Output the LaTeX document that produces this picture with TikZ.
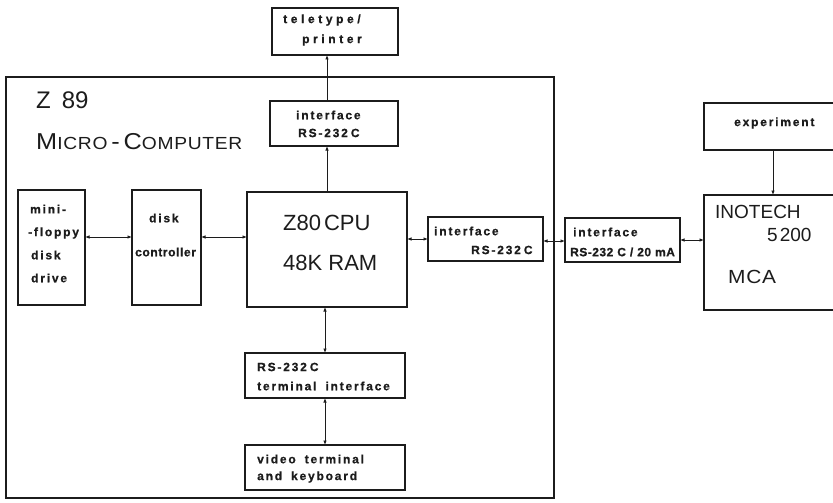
\documentclass[tikz,border=0pt]{standalone}
\usepackage{fontspec}
\setmainfont{Liberation Sans}
\newfontfamily\lbl[LetterSpace=15,FakeBold=0.8]{Liberation Sans Bold}
\newfontfamily\lblwide[LetterSpace=30,FakeBold=0.8]{Liberation Sans Bold}
\newfontfamily\lbltight[LetterSpace=5,FakeBold=0.8]{Liberation Sans Bold}
\newfontfamily\lblmid[LetterSpace=4,FakeBold=0.8]{Liberation Sans Bold}
\newfontfamily\wide[FakeStretch=1.1,LetterSpace=4]{Liberation Sans}
\newcommand\wgap{\hspace{9pt}}
\usetikzlibrary{arrows.meta}
\definecolor{ink}{HTML}{1C1C1C}
\tikzset{
  box/.style={draw=ink, line width=1.2pt, inner sep=0pt, outer sep=0pt, anchor=north west},
  heavy/.style={draw=ink, line width=2.3pt, line cap=rect},
  lab/.style={font=\lbl\fontsize{12}{14}\selectfont, text=ink, inner sep=0pt, anchor=west},
  big/.style={font=\fontsize{22}{26}\selectfont, text=ink, inner sep=0pt, anchor=west},
  mid/.style={font=\fontsize{19}{22}\selectfont, text=ink, inner sep=0pt, anchor=west},
  con/.style={draw=ink, line width=1pt, {Latex[length=4.5pt,width=3.5pt]}-{Latex[length=4.5pt,width=3.5pt]}},
  one/.style={draw=ink, line width=1pt, -{Latex[length=4.5pt,width=3.5pt]}}
}
\begin{document}
\begin{tikzpicture}[x=1pt,y=-1pt]
\useasboundingbox (0,0) rectangle (833,503);
\clip (0,0) rectangle (833,503);
\fill[white] (0,0) rectangle (833,503);
% boxes
\node[box, line width=1.1pt, minimum width=548pt, minimum height=421pt] (main) at (6,77) {};
\node[box, minimum width=126pt, minimum height=47pt] (tty) at (272,8) {};
\node[box, minimum width=128pt, minimum height=45pt] (ifa) at (270,101) {};
\node[box, minimum width=67pt, minimum height=115pt] (flp) at (18,190) {};
\node[box, minimum width=69pt, minimum height=115pt] (ctl) at (132,190) {};
\node[box, minimum width=160pt, minimum height=115pt] (cpu) at (247,192) {};
\node[box, minimum width=115pt, minimum height=44pt] (ifr) at (428,217) {};
\node[box, minimum width=115pt, minimum height=44pt] (ifm) at (565,218) {};
\node[box, minimum width=156pt, minimum height=115pt] (ino) at (704,195) {};
\node[box, minimum width=156pt, minimum height=47pt] (exp) at (704,103) {};
\node[box, minimum width=160pt, minimum height=45pt] (trm) at (245,353) {};
\node[box, minimum width=160pt, minimum height=45pt] (vid) at (245,445) {};
% heavier left and bottom edges
\foreach \n in {tty,ifa,flp,cpu,ifr,ifm,ino,exp,trm,vid}
  \draw[heavy] (\n.north west) -- (\n.south west) -- (\n.south east);
\draw[heavy] (ctl.south west) -- (ctl.south east);
\draw[draw=ink, line width=2pt] (main.south west) -- (main.south east);
% connectors
\draw[one] (cpu.north) -- (cpu.north |- ifa.south);
\draw[one] (cpu.north |- ifa.north) -- (cpu.north |- tty.south);
\draw[con] (flp.east |- 0,237) -- (ctl.west |- 0,237);
\draw[con] (ctl.east |- 0,237) -- (cpu.west |- 0,237);
\draw[con] (cpu.east |- ifr.west) -- (ifr.west);
\draw[con] (ifr.east |- 0,241) -- (ifm.west |- 0,241);
\draw[con] (ifm.east) -- (ifm.east -| ino.west);
\draw[one] (exp.south -| 773,0) -- (ino.north -| 773,0);
\draw[con] (cpu.south -| trm.north) -- (trm.north);
\draw[con] (trm.south) -- (vid.north);
% texts
\node[big, font=\fontsize{24}{27}\selectfont] (t1) at (36,100) {Z\hspace{11pt}89};
\node[big, font=\wide\fontsize{23}{26}\selectfont] (t2) at (36,142) {M{\fontsize{17.5}{20}\selectfont ICRO}\,-\,C{\fontsize{17.5}{20}\selectfont OMPUTER}};
\node[lab, font=\lblwide\fontsize{12}{14}\selectfont] (t3) at (283,20) {teletype/};
\node[lab, font=\lblwide\fontsize{12}{14}\selectfont] (t4) at (302,40) {printer};
\node[lab] (t5) at (296,115) {interface};
\node[lab] (t6) at (298,133) {RS-232\hspace{3pt}C};
\node[lab] (t7) at (30,209) {mini-};
\node[lab] (t8) at (28,233) {-floppy};
\node[lab] (t9) at (31,255) {disk};
\node[lab] (t10) at (31,278) {drive};
\node[lab] (t11) at (149,218) {disk};
\node[lab, font=\lbltight\fontsize{12}{14}\selectfont] (t12) at (135,252) {controller};
\node[big] (t13) at (283,223) {Z80\hspace{3pt}CPU};
\node[big] (t14) at (283,263) {48K RAM};
\node[lab] (t15) at (434,231) {interface};
\node[lab] (t16) at (471,250) {RS-232\hspace{3pt}C};
\node[lab] (t17) at (573,232) {interface};
\node[lab, font=\lblmid\fontsize{12}{14}\selectfont] (t18) at (570,252) {RS-232\hspace{4pt}C\hspace{4pt}/\hspace{4pt}20\hspace{4pt}mA};
\node[mid] (t19) at (715,212) {INOTECH};
\node[mid] (t20) at (767,235) {5\hspace{2pt}200};
\node[mid, font=\wide\fontsize{19}{22}\selectfont] (t21) at (728,277) {MCA};
\node[lab] (t22) at (734,123) {experiment};
\node[lab] (t23) at (257,367) {RS-232\hspace{3pt}C};
\node[lab] (t24) at (257,386) {terminal\wgap interface};
\node[lab] (t25) at (257,459) {video\wgap terminal};
\node[lab] (t26) at (257,477) {and\wgap keyboard};
\end{tikzpicture}
\end{document}
